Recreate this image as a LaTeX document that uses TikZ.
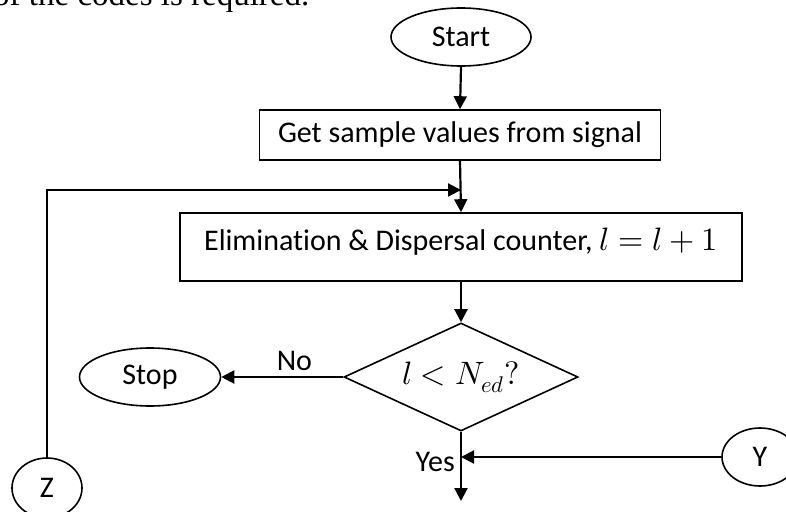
\documentclass[tikz,border=0pt]{standalone}
\usepackage{fontspec}
\usepackage{unicode-math}
\setmainfont[Ligatures={NoCommon}]{Carlito}
\setmathfont[Scale=1.08]{Latin Modern Math}
\newfontfamily\serifbody{Liberation Serif}
\usetikzlibrary{shapes.geometric,arrows.meta}
\tikzset{
  shapeline/.style={draw=black, line width=1.6pt, inner sep=0pt, font=\fontsize{30}{34}\selectfont},
  term/.style={shapeline, ellipse},
  procbox/.style={shapeline, rectangle},
  decide/.style={shapeline, diamond, shape aspect=2.17},
  arr/.style={line width=2.2pt, -{Triangle[length=13pt,width=13pt]}},
  lbl/.style={font=\fontsize{30}{34}\selectfont, inner sep=0pt}
}
\begin{document}
\begin{tikzpicture}[x=1pt,y=-1pt]
\clip (0,0) rectangle (786,511);
\useasboundingbox (0,0) rectangle (786,511);
\fill[white] (0,0) rectangle (786,511);
\node[anchor=base west, inner sep=0pt, font=\serifbody\fontsize{33}{36}\selectfont] (intro) at (-7,6) {of the codes is required.};
\node[term, minimum width=140pt, minimum height=58pt] (start) at (461,37) {Start};
\node[procbox, minimum width=401pt, minimum height=50pt] (get) at (460,135) {Get sample values from signal};
\node[procbox, minimum width=562pt, minimum height=68pt, text depth=16pt] (elim) at (461,247) {Elimination \& Dispersal counter, $l=l+1$};
\node[decide, minimum width=234pt, minimum height=108pt] (dec) at (461,377) {$l<N_{ed}?$};
\node[term, minimum width=141pt, minimum height=58pt] (stop) at (150,377) {Stop};
\node[term, minimum width=76pt, minimum height=58pt] (Y) at (760,457) {Y};
\node[term, minimum width=70pt, minimum height=60pt] (Z) at (47,488) {Z};
\coordinate (loopin) at (461,190);
\coordinate (yin) at (461,457);
\coordinate (out) at (461,501);
\draw[arr] (start.south) -- (get.north);
\draw[arr] (get.south) -- (elim.north);
\draw[line width=1.6pt] (Z.north) |- (loopin);
\draw[arr] (Z.north |- loopin) -- (loopin);
\draw[arr] (elim.south) -- (dec.north);
\draw[arr] (dec.west) -- node[lbl, above=5pt, pos=0.4] (no) {No} (stop.east);
\draw[arr] (dec.south) -- (out);
\draw[arr] (Y.west) -- (yin);
\node[lbl, anchor=east] (yes) at (455,462) {Yes};
\end{tikzpicture}
\end{document}
